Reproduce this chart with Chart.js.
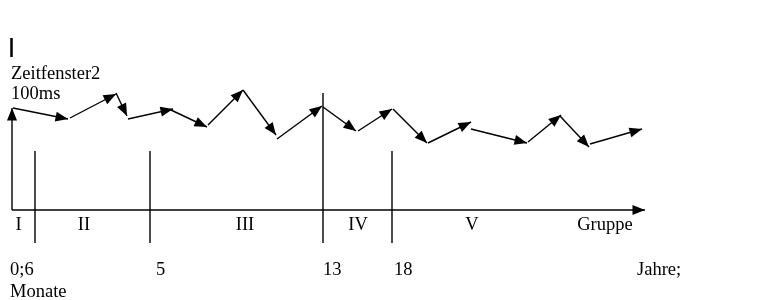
<!DOCTYPE html>
<html>
<head>
<meta charset="utf-8">
<script src="https://cdn.jsdelivr.net/npm/chart.js@4"></script>
<style>
  body { margin: 0; background: #fff; }
  #wrap { width: 770px; height: 300px; }
</style>
</head>
<body>
<div id="wrap"><canvas id="c"></canvas></div>
<script>
// === Data (chart units: x from the origin to the right, y above the time axis) ===
const segFromX = [1, 58, 104, 116, 159, 196, 231, 265, 311, 346, 381, 416, 459, 516, 548, 578];
const segFromY = [102, 92, 117, 91, 100, 85, 120, 71, 103, 79, 101, 67, 81, 68, 94, 66];
const segToX   = [56, 104, 115, 161, 195, 231, 264, 310, 344, 380, 415, 459, 515, 549, 577, 630];
const segToY   = [91, 116, 94, 101, 83, 120, 75, 104, 79, 101, 67, 88, 67, 95, 63, 81];

const dividerX = [23, 138, 311, 380];
const dividerTop = [59, 59, 117, 59];
const dividerBottom = -33;

const axisEndX = 633;
const axisEndY = 102;

const groupLabels = ['I', 'II', 'III', 'IV', 'V', 'Gruppe'];
const groupLabelX = [6.5, 72, 233, 346, 460, 593];
const groupLabelY = -20;

const ageLabels = ['0;6', '5', '13', '18', 'Jahre;'];
const ageLabelX = [-2, 144, 311, 382, 625];
const ageLabelY = -65;

const unitLabel = 'Monate';
const titleLines = ['Zeitfenster2', '100ms'];

// === Datasets ===
const datasets = [];
for (let i = 0; i < segFromX.length; i++) {
  datasets.push({
    data: [{ x: segFromX[i], y: segFromY[i] }, { x: segToX[i], y: segToY[i] }],
    arrow: true
  });
}
dividerX.forEach((x, i) => {
  datasets.push({ data: [{ x, y: dividerTop[i] }, { x, y: dividerBottom }] });
});
// axes with arrow
datasets.push({ data: [{ x: 0, y: 0 }, { x: 0, y: axisEndY }], arrow: true });
datasets.push({ data: [{ x: 0, y: 0 }, { x: axisEndX, y: 0 }], arrow: true });
// small cursor mark at the top
datasets.push({ data: [{ x: -0.5, y: 172 }, { x: -0.5, y: 153 }], borderWidth: 2.5 });

datasets.forEach(d => {
  d.showLine = true;
  d.borderColor = '#000';
  d.borderWidth = d.borderWidth || 1.4;
  d.pointRadius = 0;
  d.fill = false;
});

// === Plugins ===
const arrowHeads = {
  id: 'arrowHeads',
  afterDatasetsDraw(chart) {
    const ctx = chart.ctx;
    const xs = chart.scales.x, ys = chart.scales.y;
    ctx.save();
    ctx.fillStyle = '#000';
    chart.data.datasets.forEach(d => {
      if (!d.arrow) return;
      const a = d.data[0], b = d.data[1];
      const x1 = xs.getPixelForValue(a.x), y1 = ys.getPixelForValue(a.y);
      const x2 = xs.getPixelForValue(b.x), y2 = ys.getPixelForValue(b.y);
      const ang = Math.atan2(y2 - y1, x2 - x1);
      const len = 12.5, half = 5;
      ctx.beginPath();
      ctx.moveTo(x2, y2);
      ctx.lineTo(x2 - len * Math.cos(ang) + half * Math.sin(ang), y2 - len * Math.sin(ang) - half * Math.cos(ang));
      ctx.lineTo(x2 - len * Math.cos(ang) - half * Math.sin(ang), y2 - len * Math.sin(ang) + half * Math.cos(ang));
      ctx.closePath();
      ctx.fill();
    });
    ctx.restore();
  }
};

const textLabels = {
  id: 'textLabels',
  afterDraw(chart) {
    const ctx = chart.ctx;
    const xs = chart.scales.x, ys = chart.scales.y;
    ctx.save();
    ctx.fillStyle = '#000';
    ctx.font = '18.5px "Liberation Serif", serif';
    ctx.textBaseline = 'alphabetic';
    ctx.textAlign = 'center';
    groupLabels.forEach((t, i) => {
      ctx.fillText(t, xs.getPixelForValue(groupLabelX[i]), ys.getPixelForValue(groupLabelY));
    });
    ctx.textAlign = 'left';
    ageLabels.forEach((t, i) => {
      ctx.fillText(t, xs.getPixelForValue(ageLabelX[i]), ys.getPixelForValue(ageLabelY));
    });
    ctx.fillText(unitLabel, xs.getPixelForValue(-2), ys.getPixelForValue(-87));
    ctx.fillText(titleLines[0], xs.getPixelForValue(-1), ys.getPixelForValue(131));
    ctx.fillText(titleLines[1], xs.getPixelForValue(-1), ys.getPixelForValue(111));
    ctx.restore();
  }
};

new Chart(document.getElementById('c'), {
  type: 'scatter',
  data: { datasets },
  options: {
    responsive: true,
    maintainAspectRatio: false,
    animation: false,
    layout: { padding: 0 },
    plugins: { legend: { display: false }, tooltip: { enabled: false } },
    scales: {
      x: { type: 'linear', min: -12, max: 758, display: false },
      y: { type: 'linear', min: -90, max: 210, display: false }
    }
  },
  plugins: [arrowHeads, textLabels]
});
</script>
</body>
</html>
